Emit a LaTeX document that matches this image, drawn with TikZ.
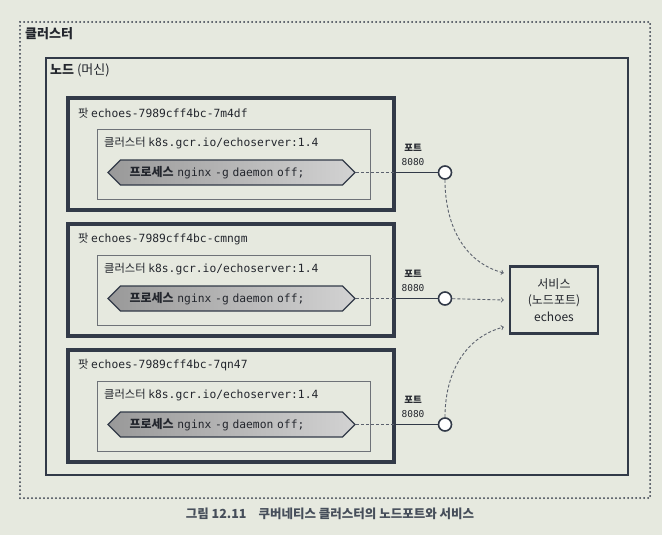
\documentclass[tikz,border=0pt]{standalone}
\usepackage{fontspec}
\setmainfont{Noto Sans CJK KR}
\setmonofont{DejaVu Sans Mono}
\usetikzlibrary{shapes.symbols}
\definecolor{paper}{RGB}{230,233,223}
\definecolor{ink}{RGB}{50,58,72}
\definecolor{inkgray}{RGB}{110,114,120}
\definecolor{txt}{RGB}{35,38,45}
\begin{document}
\begin{tikzpicture}[x=1pt, y=-1pt,
    podbox/.style={draw=ink, line width=4pt, anchor=north west, minimum width=326pt, minimum height=112pt, inner sep=0pt},
    ctrbox/.style={draw=inkgray, line width=1pt, anchor=north west, minimum width=273pt, minimum height=70pt, inner sep=0pt},
    proc/.style={signal, signal to=west and east, draw=ink, line width=1.2pt, left color=gray!80, right color=gray!35,
        minimum width=247pt, minimum height=25pt, text width=204pt, align=left, inner sep=2pt, text=txt,
        font=\fontsize{11.3}{13}\selectfont},
    port/.style={circle, draw=ink, line width=1.6pt, fill=white, minimum size=13pt, inner sep=0pt},
    lbl/.style={anchor=west, inner sep=0pt, text=txt, font=\fontsize{11.3}{13}\selectfont},
    portlbl/.style={inner sep=0pt, text=txt, font=\fontsize{9.5}{10}\selectfont},
    link/.style={->, ink!80, line width=0.9pt, dash pattern=on 3pt off 2pt}
]
\fill[paper] (0,0) rectangle (662,535);
\draw[ink, line width=2pt, line cap=round, dash pattern=on 0pt off 4pt] (20,22) rectangle (650,498);
\node[lbl] (clustertitle) at (25,34) {\fontsize{13}{15}\selectfont\textbf{클러스터}};

\node[draw=ink, line width=1.6pt, anchor=north west, minimum width=582pt, minimum height=417pt, inner sep=0pt] (node) at (45,57) {};
\node[lbl] (nodetitle) at (50,70) {\fontsize{13}{15}\selectfont\textbf{노드} (머신)};

\node[podbox] (pod1) at (66,96) {};
\node[lbl] (pod1title) at (78,113) {팟 \texttt{echoes-7989cff4bc-7m4df}};
\node[ctrbox] (ctr1) at (97,129) {};
\node[lbl] (ctr1title) at (104,143) {클러스터 \texttt{k8s.gcr.io/echoserver:1.4}};
\node[proc] (proc1) at (231.5,172.5) {\textbf{\fontsize{12}{13}\selectfont 프로세스} \texttt{nginx -g daemon off;}};

\node[podbox] (pod2) at (66,222) {};
\node[lbl] (pod2title) at (78,239) {팟 \texttt{echoes-7989cff4bc-cmngm}};
\node[ctrbox] (ctr2) at (97,255) {};
\node[lbl] (ctr2title) at (104,269) {클러스터 \texttt{k8s.gcr.io/echoserver:1.4}};
\node[proc] (proc2) at (231.5,298.5) {\textbf{\fontsize{12}{13}\selectfont 프로세스} \texttt{nginx -g daemon off;}};

\node[podbox] (pod3) at (66,348) {};
\node[lbl] (pod3title) at (78,365) {팟 \texttt{echoes-7989cff4bc-7qn47}};
\node[ctrbox] (ctr3) at (97,381) {};
\node[lbl] (ctr3title) at (104,395) {클러스터 \texttt{k8s.gcr.io/echoserver:1.4}};
\node[proc] (proc3) at (231.5,424.5) {\textbf{\fontsize{12}{13}\selectfont 프로세스} \texttt{nginx -g daemon off;}};

\node[port] (port1) at (445,172.5) {};
\node[port] (port2) at (445,298.5) {};
\node[port] (port3) at (445,424.5) {};
\node[portlbl] (port1name) at (413,148) {\textbf{포트}};
\node[portlbl] (port1num) at (413,162) {\texttt{8080}};
\node[portlbl] (port2name) at (413,274) {\textbf{포트}};
\node[portlbl] (port2num) at (413,288) {\texttt{8080}};
\node[portlbl] (port3name) at (413,400) {\textbf{포트}};
\node[portlbl] (port3num) at (413,414) {\texttt{8080}};

\node[draw=ink, line width=2.5pt, minimum width=88pt, minimum height=67pt, align=center, text=txt,
    font=\fontsize{12}{16.5}\selectfont] (svc) at (554,300) {서비스\\(노드포트)\\echoes};

\draw[ink!80, line width=0.9pt, dash pattern=on 3pt off 2pt] (proc1.east) -- (proc1.east -| pod1.east);
\draw[ink!80, line width=0.9pt, dash pattern=on 3pt off 2pt] (proc2.east) -- (proc2.east -| pod2.east);
\draw[ink!80, line width=0.9pt, dash pattern=on 3pt off 2pt] (proc3.east) -- (proc3.east -| pod3.east);
\draw[ink, line width=1.8pt] (proc1.east -| pod1.east) -- (port1);
\draw[ink, line width=1.8pt] (proc2.east -| pod2.east) -- (port2);
\draw[ink, line width=1.8pt] (proc3.east -| pod3.east) -- (port3);

\draw[link] (port1) to[out=-90, in=165] ([xshift=-5pt, yshift=27pt]svc.west);
\draw[link] (port2) -- ([xshift=-5pt]svc.west);
\draw[link] (port3) to[out=90, in=195] ([xshift=-5pt, yshift=-27pt]svc.west);

\node[text=ink!90, font=\fontsize{12.5}{14}\selectfont\bfseries] (caption) at (330,514) {그림 12.11\hspace{12pt}쿠버네티스 클러스터의 노드포트와 서비스};
\end{tikzpicture}
\end{document}
